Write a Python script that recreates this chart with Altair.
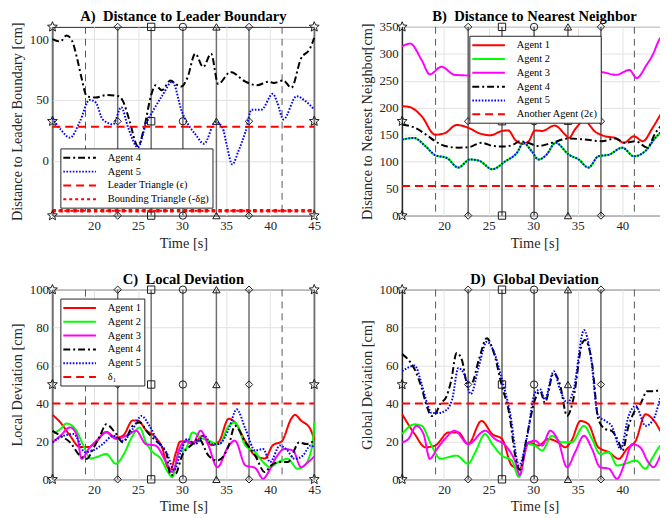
import altair as alt
import pandas as pd

FONT = "Liberation Serif"
TXT = "#262626"
STAR = ("M0,-1L0.265,-0.364L0.951,-0.309L0.428,0.139L0.588,0.809L0,0.45"
        "L-0.588,0.809L-0.428,0.139L-0.951,-0.309L-0.265,-0.364Z")
LEG_LINE = "M-3,0L3,0"

T_MIN, T_MAX = 15.3, 45.0
X_TICKS = [20, 25, 30, 35, 40, 45]
EVENT_T = [22.7, 26.5, 30.1, 33.9, 37.6]
EVENT_SHAPE = ["diamond", "square", "circle", "triangle-up", "diamond"]
STAR_T = [15.3, 45.0]
SWITCH_T = [19.05, 41.35]

# ---------------- Panel A ----------------
A4_T = [15.3, 16.2, 16.9, 17.5, 18.1, 18.6, 19.2, 20.2, 21.4, 22.8, 23.3, 24.0, 25.0, 25.7, 26.5, 27.0, 27.7,
        28.7, 29.3, 29.9, 30.6, 31.5, 32.4, 33.3, 34.1, 35.5, 37.2, 38.5, 39.8, 40.4, 41.5, 42.4, 43.5, 44.5, 45.0]
A4_V = [100, 98, 103, 99, 84, 68, 53, 52, 54, 53, 49, 34, 12, 27, 54, 62, 58,
        66, 63, 61, 68, 88, 77, 88, 63, 73, 65, 62, 65, 64, 66, 60, 84, 92, 101]
A5_T = [15.3, 16.2, 17.3, 18.4, 19.5, 20.2, 21.0, 22.2, 23.1, 23.9, 25.0, 25.9, 26.7, 27.8, 28.9, 30.0, 30.6,
        31.5, 32.5, 33.8, 34.6, 35.1, 35.7, 36.4, 37.2, 37.9, 39.0, 40.3, 40.8, 41.5, 43.0, 44.0, 45.0]
A5_V = [35, 26, 19, 32, 50, 48, 34, 30, 44, 27, 11, 30, 41, 54, 65, 40, 31,
        22, 14, 32, 27, 12, -3, 8, 24, 42, 42, 55, 48, 34, 53, 49, 42]
A_EPS = 28
A_DELTA_G = -41

# ---------------- Panel B ----------------
B1_T = [15.3, 16.2, 17.5, 19.0, 20.1, 21.4, 22.7, 23.9, 25.2, 26.5, 27.2, 28.0, 28.8, 29.5, 30.2, 31.0, 32.4,
        33.6, 34.0, 34.7, 35.7, 37.0, 38.1, 39.2, 40.2, 41.3, 42.3, 43.4, 44.5, 45.0]
B1_V = [203, 201, 184, 150, 153, 168, 163, 153, 149, 157, 158, 140, 133, 138, 158, 157, 167,
        150, 144, 160, 176, 155, 147, 144, 135, 147, 138, 163, 193, 205]
B2_T = [15.3, 16.6, 17.9, 19.0, 20.3, 21.6, 22.9, 23.9, 25.4, 26.9, 28.2, 28.9, 29.8, 30.6, 31.5, 32.5, 34.0,
        35.1, 36.2, 37.3, 38.5, 40.0, 41.3, 42.6, 43.7, 44.5, 45.0]
B2_V = [141, 144, 129, 112, 107, 89, 104, 102, 86, 101, 117, 135, 120, 104, 113, 135, 113,
        104, 89, 110, 113, 126, 110, 120, 144, 157, 162]
B3_T = [15.3, 16.2, 17.5, 18.4, 19.7, 21.2, 22.8, 25.0, 28.0, 31.0, 34.0, 36.0, 37.6, 39.3, 40.8, 41.6, 42.7,
        43.4, 44.2, 45.0]
B3_V = [314, 319, 288, 262, 276, 261, 260, 262, 265, 263, 266, 264, 266, 261, 270, 255, 279,
        298, 328, 338]
B4_T = [15.3, 16.7, 18.0, 19.0, 20.1, 21.6, 22.8, 24.2, 25.5, 26.9, 27.8, 28.5, 29.4, 30.6, 32.1, 34.0, 35.8,
        37.7, 39.2, 40.3, 41.5, 42.8, 43.7, 44.5, 45.0]
B4_V = [169, 163, 150, 138, 129, 126, 127, 135, 129, 128, 132, 138, 135, 129, 135, 143, 141,
        138, 143, 135, 138, 126, 153, 169, 175]
B5_T = [15.3, 16.6, 17.9, 19.0, 20.3, 21.6, 22.9, 23.9, 25.4, 26.9, 28.2, 28.9, 29.8, 30.6, 31.5, 32.5, 34.0,
        35.1, 36.2, 37.3, 38.5, 40.0, 41.3, 42.6, 43.7, 44.5, 45.0]
B5_V = [141, 144, 129, 112, 107, 89, 104, 102, 86, 101, 117, 135, 120, 104, 113, 135, 113,
        104, 89, 110, 113, 126, 110, 120, 144, 157, 162]
B_2EPS = 55

# ---------------- Panel C ----------------
C1_T = [15.3, 16.2, 17.3, 18.4, 19.4, 20.3, 21.4, 22.5, 23.3, 24.4, 25.0, 25.9, 27.0, 27.8, 28.3, 28.7, 29.3,
        29.8, 30.4, 31.5, 32.3, 33.4, 34.2, 35.3, 36.0, 37.2, 38.3, 39.4, 40.3, 41.3, 42.4, 42.8, 43.5, 44.5, 45.0]
C1_V = [34, 30, 23, 17, 17, 20, 25, 22, 23, 31, 31, 26, 22, 16, 7, 5, 14,
        20, 20, 19.5, 23, 18, 20, 32, 30, 20, 12.5, 11, 18, 20, 32, 34, 31, 27, 21]
C2_T = [15.3, 16.2, 16.9, 17.9, 18.8, 19.6, 20.3, 21.4, 22.5, 23.3, 24.4, 25.2, 25.9, 26.7, 27.6, 28.4, 28.9,
        29.7, 30.4, 31.2, 32.1, 33.0, 34.2, 35.3, 36.0, 37.2, 38.3, 39.2, 40.0, 40.9, 42.0, 43.1, 43.9, 44.8, 45.0]
C2_V = [24, 26.5, 29.4, 26.5, 18, 11, 11.7, 13.4, 8.2, 12.5, 23, 27.4, 19.5, 14.3, 10.8, 3.8, 1.2,
        15.2, 16, 24.7, 22, 20.4, 18.6, 28.2, 30, 17.8, 14.3, 9.1, 6.4, 9.1, 10.8, 5.6, 7.3, 18.6, 30]
C3_T = [15.3, 16.2, 17.3, 18.1, 18.6, 19.4, 20.3, 21.4, 22.5, 23.7, 24.8, 25.9, 27.0, 28.2, 28.9, 29.7, 30.4,
        31.2, 32.1, 33.0, 34.0, 35.3, 36.0, 37.2, 38.3, 39.2, 39.8, 40.7, 41.6, 42.6, 43.5, 44.3, 45.0]
C3_V = [19.5, 23, 27.4, 23, 10.8, 16, 20.4, 24.7, 21.3, 23, 25.6, 18.6, 17.8, 9.1, 3.8, 16, 20.4,
        18.6, 25.6, 17.8, 6.4, 17.8, 20.4, 7.3, 6, 0.3, 3.8, 11.7, 16, 15.2, 6.4, 9.1, 12]
C4_T = [15.3, 16.2, 17.3, 18.4, 19.2, 19.9, 20.7, 21.4, 22.4, 23.3, 24.4, 25.2, 26.1, 27.0, 28.2, 28.7, 29.3,
        30.0, 31.0, 31.9, 33.0, 34.0, 35.3, 36.0, 37.2, 38.3, 39.4, 40.1, 41.1, 42.0, 43.3, 44.1, 45.0]
C4_V = [25.6, 23, 19.5, 12.5, 10.8, 16, 23, 29, 24.7, 19.5, 28.2, 30, 24.7, 20.4, 14.3, 2.1, 3,
        12.5, 17.8, 21.3, 12.5, 9.9, 17.8, 28.2, 19.5, 12.5, 3.8, 7.3, 9.1, 9.1, 19.5, 18.6, 20.4]
C5_T = [15.3, 16.6, 17.7, 19.0, 19.9, 21.0, 22.2, 23.3, 24.4, 25.4, 26.3, 27.2, 28.4, 29.1, 29.9, 30.6, 31.5,
        32.5, 33.4, 34.2, 35.3, 36.2, 37.2, 38.3, 39.2, 40.0, 41.1, 41.8, 42.8, 43.7, 44.6, 45.0]
C5_V = [19.5, 23, 23.9, 14.3, 15.2, 18.6, 23, 20.4, 26.5, 33.4, 28.2, 20.4, 12.5, 4.7, 15.2, 21.3, 18.6,
        23, 18.6, 18.6, 26.5, 36.9, 26.5, 15.2, 16, 9.1, 17.8, 16, 10.8, 12.5, 17.8, 16.9]
DELTA_L = 40

# ---------------- Panel D ----------------
D1_T = [15.3, 16.7, 17.9, 19.0, 20.5, 21.6, 22.7, 24.2, 25.4, 26.5, 27.6, 28.5, 29.5, 30.6, 31.7, 32.8, 33.6,
        34.3, 35.3, 36.2, 37.3, 38.5, 39.6, 40.5, 41.5, 42.6, 43.7, 44.5, 45.0]
D1_V = [34.3, 23.9, 16.9, 17.8, 24.7, 24.7, 18.6, 30.8, 23.9, 21.3, 7.3, 5.6, 19.5, 17.8, 21.3, 19.5, 16.9,
        20.4, 30.8, 29, 16.9, 14.3, 10.8, 16, 20.4, 34.3, 30, 23.9, 22]
D2_T = [15.3, 16.7, 17.5, 18.6, 19.6, 20.5, 21.4, 22.7, 23.5, 24.6, 25.4, 26.5, 27.6, 28.4, 29.3, 30.2, 31.0,
        32.1, 33.2, 34.3, 35.7, 36.6, 37.5, 38.5, 39.4, 40.3, 41.5, 42.6, 43.3, 44.5, 45.0]
D2_V = [23.9, 29, 28.2, 17.8, 10.8, 11.7, 12.5, 8.2, 14.3, 23.9, 18.6, 12.5, 9.9, 1.2, 18.6, 17.8, 15.2,
        23, 19.5, 19.5, 28.2, 21.3, 13.4, 14.3, 7.3, 8.2, 9.9, 5.6, 10.8, 18.6, 19]
D3_T = [15.3, 16.0, 16.9, 17.7, 18.4, 19.2, 20.1, 21.2, 22.7, 24.6, 25.7, 26.9, 28.0, 28.5, 29.3, 30.2, 31.0,
        31.9, 32.8, 33.8, 34.7, 35.7, 36.6, 37.5, 38.5, 39.4, 40.3, 41.1, 42.0, 42.9, 43.5, 44.5, 45.0]
D3_V = [19.5, 21.3, 28.2, 23.9, 10.8, 16, 21.3, 25.6, 18.6, 25.6, 21.3, 17.8, 9.1, 2.1, 18.6, 20.4, 17.8,
        25.6, 20.4, 6.4, 14.3, 23, 16, 6.4, 5.6, 0.3, 9.1, 18.6, 16.9, 9.1, 6.4, 14.3, 16]
D4_T = [15.3, 16.0, 16.7, 17.5, 18.1, 18.6, 19.1, 19.6, 20.2, 20.8, 21.4, 22.0, 22.6, 23.1, 23.9, 24.8, 25.5,
        26.5, 27.3, 28.0, 28.5, 29.3, 30.2, 30.8, 31.3, 32.3, 33.0, 33.8, 34.5, 35.5, 35.8, 36.6, 37.3, 38.1,
        38.8, 39.6, 40.0, 40.7, 41.5, 42.0, 42.8, 43.5, 44.5, 45.0]
D4_V = [66, 63, 58, 48, 38, 33.4, 35, 40, 43, 52, 66.6, 63, 51, 51, 63, 74.4, 68,
        49, 35, 12, 5, 23, 42, 46.5, 40.4, 56, 50, 33.4, 42.2, 71.8, 73.5, 61.3, 31.7, 26.5,
        25.6, 19.5, 15.2, 28.2, 36.9, 39.5, 46.5, 46.5, 47.4, 48]
D5_T = [15.3, 16.0, 16.7, 17.5, 18.1, 18.6, 19.4, 20.1, 20.9, 21.6, 22.2, 23.0, 23.9, 24.8, 25.5, 26.5, 27.4,
        28.4, 29.3, 30.2, 30.8, 31.3, 32.3, 33.0, 33.8, 34.5, 35.7, 36.4, 37.3, 38.1, 38.8, 39.8, 40.7, 41.5,
        42.6, 43.5, 44.5, 45.0]
D5_V = [57, 59, 60, 50, 40, 35, 35, 36, 42, 58.7, 56, 45, 59.6, 72.6, 68.3, 52.6, 35.2,
        7.3, 22.1, 45.6, 47.4, 42.2, 57, 47.4, 40.4, 46.5, 78.7, 66.6, 33.4, 30.8, 28.2, 16, 33.4, 38.7,
        28.2, 31.7, 45.6, 48]

RED, GREEN, MAGENTA, BLACK, BLUE = "#ff0000", "#00ff00", "#ff00ff", "#000000", "#0000ff"
SOLID = [1, 0]
DASHDOT = [7, 3, 2, 3]
DOT = [1.6, 1.6]
DASH = [8, 5]
FINE_DOT = [3, 3]
NB = "\u00a0\u00a0"


def panel(title, ytitle, ydom, yticks, series, legend_xy, rule_color, rule_width, width, height,
          thick=None):
    names = [s[0] for s in series]
    colors = [s[3] for s in series]
    dashes = [s[4] for s in series]
    rows = []
    for name, ts, vs, _c, _d in series:
        rows += [{"t": t, "v": v, "s": name} for t, v in zip(ts, vs)]
    df = pd.DataFrame(rows)

    X = alt.X("t:Q", scale=alt.Scale(domain=[T_MIN, T_MAX], nice=False, zero=False),
              axis=alt.Axis(title="Time [s]", values=X_TICKS))
    Y = alt.Y("v:Q", scale=alt.Scale(domain=ydom, nice=False, zero=False),
              axis=alt.Axis(title=ytitle, values=yticks))

    if legend_xy is not None:
        leg = alt.Legend(title=None, orient="none", legendX=legend_xy[0], legendY=legend_xy[1],
                         symbolType=LEG_LINE, symbolSize=121, symbolStrokeWidth=2, symbolOffset=10,
                         labelFont=FONT, labelFontSize=10.5, labelColor="#000000",
                         fillColor="white", strokeColor=TXT, padding=3, rowPadding=2,
                         labelOffset=22)
    else:
        leg = None

    ymid = (ydom[0] + ydom[1]) / 2
    mk = pd.DataFrame([{"t": t, "v": y, "shape": sh}
                       for t, sh in zip(EVENT_T, EVENT_SHAPE) for y in (ydom[0], ymid, ydom[1])])
    st = pd.DataFrame([{"t": t, "v": y} for t in STAR_T for y in (ydom[0], ymid, ydom[1])])

    rules = alt.Chart(pd.DataFrame({"t": EVENT_T + STAR_T})).mark_rule(
        color=rule_color, strokeWidth=rule_width).encode(x=X)
    dashed = alt.Chart(pd.DataFrame({"t": SWITCH_T})).mark_rule(
        color="#555555", strokeWidth=1, strokeDash=[7, 5]).encode(x=X)
    lines = alt.Chart(df).mark_line(interpolate="monotone", strokeWidth=2).encode(
        x=X, y=Y,
        color=alt.Color("s:N", scale=alt.Scale(domain=names, range=colors), legend=leg),
        strokeDash=alt.StrokeDash("s:N", scale=alt.Scale(domain=names, range=dashes), legend=leg),
    )
    layers = [rules, dashed, lines]
    if thick is not None:
        tdf = df[df["s"] == thick]
        layers.append(alt.Chart(tdf).mark_line(color=RED, strokeWidth=3.5, strokeDash=[3.5, 3.5]).encode(x=X, y=Y))
    pts = alt.Chart(mk).mark_point(filled=False, color="#1a1a1a", strokeWidth=1, size=55, opacity=1).encode(
        x=X, y=Y,
        shape=alt.Shape("shape:N", scale=alt.Scale(domain=["diamond", "square", "circle", "triangle-up"],
                                                   range=["diamond", "square", "circle", "triangle-up"]),
                        legend=None))
    stars = alt.Chart(st).mark_point(filled=False, shape=STAR, color="#1a1a1a", strokeWidth=1, size=110,
                                     opacity=1).encode(x=X, y=Y)
    layers += [pts, stars]
    return alt.layer(*layers).properties(
        width=width, height=height,
        title=alt.Title(title, font=FONT, fontSize=14.8, fontWeight="bold", color="#000000",
                        anchor="middle", frame="group", offset=-4))


pA = panel("A)" + NB + "Distance to Leader Boundary", "Distance to Leader Boundary [cm]", [-45, 110],
           [0, 50, 100],
           [("Agent 4", A4_T, A4_V, BLACK, DASHDOT),
            ("Agent 5", A5_T, A5_V, BLUE, DOT),
            ("Leader Triangle (ϵ)", [T_MIN, T_MAX], [A_EPS, A_EPS], RED, DASH),
            ("Bounding Triangle (-δg)", [T_MIN, T_MAX], [A_DELTA_G, A_DELTA_G], RED, FINE_DOT)],
           (8, 123), "#6e6e6e", 1.5, 265, 191, thick="Bounding Triangle (-δg)")

pB = panel("B)" + NB + "Distance to Nearest Neighbor", "Distance to Nearest Neighbor[cm]", [0, 350],
           [0, 50, 100, 150, 200, 250, 300, 350],
           [("Agent 1", B1_T, B1_V, RED, SOLID),
            ("Agent 2", B2_T, B2_V, GREEN, SOLID),
            ("Agent 3", B3_T, B3_V, MAGENTA, SOLID),
            ("Agent 4", B4_T, B4_V, BLACK, DASHDOT),
            ("Agent 5", B5_T, B5_V, BLUE, DOT),
            ("Another Agent (2ϵ)", [T_MIN, T_MAX], [B_2EPS, B_2EPS], RED, DASH)],
           (68, 9), "#111111", 1, 268, 191)

pC = panel("C)" + NB + "Local Deviation", "Local Deviation [cm]", [0, 100], [0, 20, 40, 60, 80, 100],
           [("Agent 1", C1_T, C1_V, RED, SOLID),
            ("Agent 2", C2_T, C2_V, GREEN, SOLID),
            ("Agent 3", C3_T, C3_V, MAGENTA, SOLID),
            ("Agent 4", C4_T, C4_V, BLACK, DASHDOT),
            ("Agent 5", C5_T, C5_V, BLUE, DOT),
            ("δ₁", [T_MIN, T_MAX], [DELTA_L, DELTA_L], RED, DASH)],
           (8, 9), "#6e6e6e", 1.5, 265, 192)

pD = panel("D)" + NB + "Global Deviation", "Global Deviation [cm]", [0, 100], [0, 20, 40, 60, 80, 100],
           [("Agent 1", D1_T, D1_V, RED, SOLID),
            ("Agent 2", D2_T, D2_V, GREEN, SOLID),
            ("Agent 3", D3_T, D3_V, MAGENTA, SOLID),
            ("Agent 4", D4_T, D4_V, BLACK, DASHDOT),
            ("Agent 5", D5_T, D5_V, BLUE, DOT),
            ("δ₁", [T_MIN, T_MAX], [DELTA_L, DELTA_L], RED, DASH)],
           None, "#111111", 1, 268, 192)

chart = alt.concat(pA, pB, pC, pD, columns=2, spacing={"row": 21, "column": 37}).resolve_scale(
    color="independent", strokeDash="independent"
).resolve_legend(color="independent", strokeDash="independent").properties(
    padding={"left": 1, "top": -3, "right": -15, "bottom": 0}, background="white"
).configure_view(stroke=TXT, strokeWidth=1).configure_axis(
    labelFont=FONT, labelFontSize=13, labelColor=TXT, titleFont=FONT, titleFontSize=14.5,
    titleFontWeight="normal", titleColor=TXT, grid=True, gridColor="#e2e2e2", domain=False,
    ticks=False, labelFlush=False, labelOverlap=False, labelPadding=4
).configure_axisX(titlePadding=4).configure_axisY(titlePadding=5)

chart.save("out.html", embed_options={"renderer": "svg", "actions": False})
